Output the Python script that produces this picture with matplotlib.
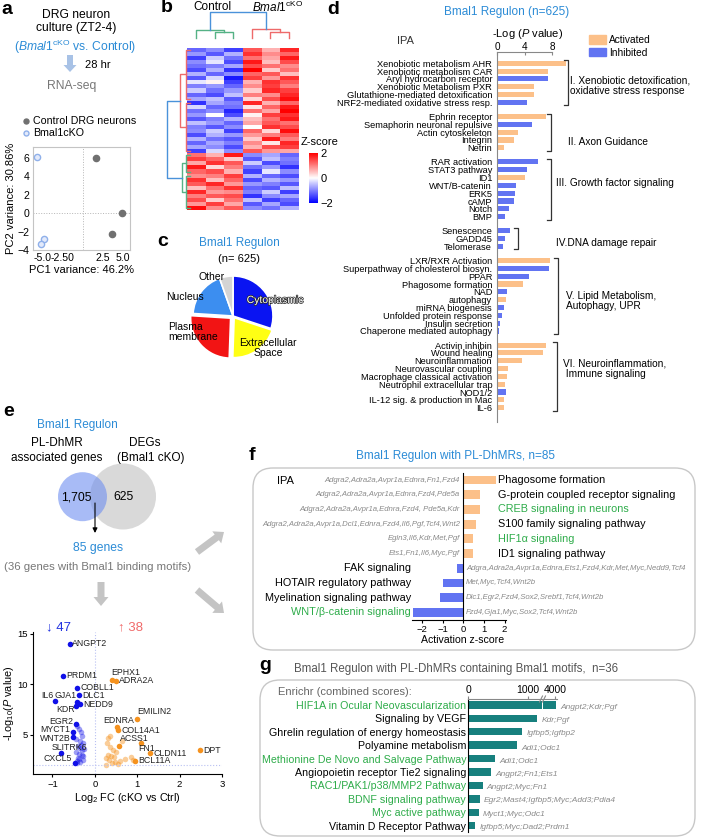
import numpy as np
import matplotlib
matplotlib.use("Agg")
import matplotlib.pyplot as plt
from matplotlib.patches import Circle, FancyBboxPatch, FancyArrow, Patch
from matplotlib.lines import Line2D
from matplotlib import patheffects as pe

plt.rcParams['font.family'] = ['Liberation Sans', 'DejaVu Sans']
plt.rcParams['mathtext.fontset'] = 'custom'
plt.rcParams['mathtext.rm'] = 'Liberation Sans'
plt.rcParams['mathtext.it'] = 'Liberation Sans:italic'
plt.rcParams['mathtext.bf'] = 'Liberation Sans:bold'
plt.rcParams['axes.linewidth'] = 0.8

W, H = 701, 838
TBLUE = '#2b8bd6'
ORANGE = '#fcc089'
BARBLUE = '#6274f2'
GREEN = '#2eac4a'
TEAL = '#17807e'

# ---------------- data ----------------
# a: PCA
pc1_ctrl = [1.6, 3.6, 4.9]
pc2_ctrl = [6.0, -2.3, 0.0]
pc1_cko = [-5.7, -4.9, -5.25]
pc2_cko = [6.1, -2.8, -3.4]

# b: heatmap z-scores (rows x Control1-3, cKO1-3)
hm_z = [
    [-1.2, -0.9, -1.5, 1.3, 0.6, 1.7],
    [-0.8, -1.3, -0.6, 1.6, 0.9, 1.2],
    [-1.5, -0.4, -1.1, 1.1, 0.7, 1.8],
    [-0.9, -0.2, -1.4, 1.8, 0.5, 1.4],
    [-1.1, -1.0, -0.7, 1.4, 1.1, 0.9],
    [-1.4, -0.6, -1.6, 2.0, 0.4, 1.1],
    [-0.6, -1.2, -0.9, 1.2, 1.3, 0.5],
    [-1.3, -0.3, -1.8, 1.5, 0.8, 1.6],
    [-0.2, 0.1, -1.5, 0.6, 1.6, 1.3],
    [-1.0, -0.8, -1.2, 0.9, 1.5, 1.0],
    [-0.4, -1.1, -0.8, 0.4, 1.7, 1.5],
    [-1.2, -1.4, -0.5, 1.0, 0.9, 1.7],
    [-0.7, -0.5, -1.3, 0.3, 1.4, 1.9],
    [-1.6, -0.7, -1.0, 1.7, 0.6, 1.2],
    [-0.3, -1.2, -1.1, 0.2, 1.2, 1.8],
    [-1.1, -0.9, -1.7, 1.1, 0.7, 2.0],
    [-0.8, 0.0, -1.4, 0.1, 1.5, 1.6],
    [-1.3, -1.0, -0.6, 0.5, 1.1, 1.8],
    [-0.5, -0.8, -1.2, 0.7, 1.3, 1.1],
    [-1.0, -1.3, -0.9, 0.0, 1.6, 1.4],
    [-0.9, -0.4, -1.5, 1.2, 0.3, 1.9],
    [-1.4, -0.6, -0.8, 0.8, 1.0, 1.3],
    [-0.6, -1.1, -1.3, 0.4, 1.8, 1.0],
    [-1.2, -0.7, -1.0, 0.9, 0.2, 1.7],
    [-0.7, -0.9, -1.4, 0.6, 1.4, 1.5],
    [-1.5, -0.3, -0.9, 1.3, 0.8, 0.7],
    [1.1, 0.6, 1.8, -0.9, -0.7, -1.2],
    [1.5, 1.2, 0.4, -1.3, -0.5, -1.0],
    [0.7, 1.6, 1.3, -0.4, -1.4, -1.1],
    [1.8, 0.3, 1.0, -1.1, -0.8, -1.6],
    [1.2, 1.4, 0.6, -1.5, -0.2, -0.9],
    [0.9, 1.0, 1.5, -0.6, -1.2, -1.4],
    [1.6, 0.5, 1.2, -1.4, -0.6, -0.8],
    [1.3, 1.7, 0.8, -0.8, -1.0, -1.3],
    [0.5, 1.1, 1.6, -1.2, -1.3, -0.5],
    [1.7, 0.8, 0.9, -1.0, -0.4, -1.5],
    [1.0, 1.3, 1.4, -1.6, -0.9, -0.7],
    [1.4, 0.4, 1.1, -0.5, -1.5, -1.2],
    [0.8, 1.5, 0.7, -1.3, -0.7, -1.4],
    [1.9, 0.9, 1.3, -0.9, -1.1, -0.6],
]
# row clusters (first row, last row) and linkage heights
row_subclusters = [(0, 12), (13, 25), (26, 30), (31, 39)]
row_sub_h = 0.17
row_cluster_h = [0.43, 0.36]
col_sub_h = [0.24, 0.24]
col_cluster_h = [0.30, 0.34]

# c: subcellular location
loc_names = ['Cytoplasmic', 'Extracellular Space', 'Plasma membrane', 'Nucleus', 'Other']
loc_counts = [188, 128, 159, 116, 34]
loc_colors = ['#0a14f2', '#ffff14', '#f21414', '#3c8ef0', '#d4d4d4']

# d: IPA pathways
ipa_groups = [
    ["Xenobiotic metabolism AHR", "Xenobiotic metabolism CAR", "Aryl hydrocarbon receptor",
     "Xenobiotic Metabolism PXR", "Glutathione-mediated detoxification",
     "NRF2-mediated oxidative stress resp."],
    ["Ephrin receptor", "Semaphorin neuronal repulsive", "Actin cytoskeleton", "Integrin", "Netrin"],
    ["RAR activation", "STAT3 pathway", "ID1", "WNT/B-catenin", "ERK5", "cAMP", "Notch", "BMP"],
    ["Senescence", "GADD45", "Telomerase"],
    ["LXR/RXR Activation", "Superpathway of cholesterol biosyn.", "PPAR", "Phagosome formation",
     "NAD", "autophagy", "miRNA biogenesis", "Unfolded protein response", "Insulin secretion",
     "Chaperone mediated autophagy"],
    ["Activin inhibin", "Wound healing", "Neuroinflammation", "Neurovascular coupling",
     "Macrophage classical activation", "Neutrophil extracellular trap", "NOD1/2",
     "IL-12 sig. & production in Mac", "IL-6"],
]
ipa_logp = [
    [10.0, 7.45, 7.45, 5.4, 5.35, 4.3],
    [7.1, 5.0, 3.1, 2.4, 1.0],
    [5.9, 4.3, 4.1, 2.8, 2.6, 2.5, 1.8, 1.1],
    [1.9, 1.2, 0.85],
    [7.7, 7.5, 4.6, 3.7, 1.5, 1.3, 1.0, 0.7, 0.4, 0.35],
    [7.1, 6.6, 3.6, 1.6, 1.5, 1.2, 1.3, 1.0, 0.95],
]
ipa_dir = ["AAIAAI", "AIAAA", "IIAIIIII", "III", "AIIAIAIIII", "AAAAAAIAA"]
ipa_group_titles = ["I. Xenobiotic detoxification,\noxidative stress response", "II. Axon Guidance",
                    "III. Growth factor signaling", "IV.DNA damage repair",
                    "V. Lipid Metabolism,\nAutophagy, UPR", "VI. Neuroinflammation,\n Immune signaling"]

# e: volcano
vol_down_lab = ['ANGPT2', 'PRDM1', 'COBLL1', 'DLC1', 'IL6', 'GJA1', 'NEDD9', 'KDR',
                'EGR2', 'MYCT1', 'WNT2B', 'SLITRK6', 'CXCL5']
vol_down_fc = [-0.59, -0.75, -0.42, -0.37, -0.94, -0.43, -0.35, -0.45, -0.45, -0.51, -0.51, -0.80, -0.47]
vol_down_p = [14.0, 10.8, 9.6, 8.9, 8.3, 8.25, 8.0, 7.85, 6.0, 5.2, 4.8, 3.2, 2.15]
vol_up_lab = ['EPHX1', 'ADRA2A', 'EMILIN2', 'EDNRA', 'COL14A1', 'ACSS1', 'FN1', 'CLDN11', 'DPT', 'BCL11A']
vol_up_fc = [0.41, 0.51, 1.0, 0.52, 0.55, 0.56, 1.10, 1.29, 2.49, 0.95]
vol_up_p = [10.4, 10.3, 6.5, 5.7, 5.4, 3.9, 4.2, 3.2, 3.45, 2.4]
vol_down_fc_other = [-0.42, -0.38, -0.33, -0.30, -0.45, -0.36, -0.28, -0.40, -0.34, -0.31, -0.44,
                     -0.37, -0.29, -0.39, -0.27, -0.35, -0.41, -0.32, -0.30, -0.38, -0.26, -0.43]
vol_down_p_other = [5.8, 5.5, 5.2, 4.9, 4.6, 4.4, 4.2, 3.9, 3.7, 3.5, 3.3,
                    3.1, 2.9, 2.7, 2.5, 2.3, 2.2, 4.0, 3.0, 2.6, 3.6, 2.4]
vol_up_fc_other = [0.30, 0.35, 0.28, 0.42, 0.50, 0.38, 0.27, 0.33, 0.45, 0.60, 0.70, 0.31,
                   0.40, 0.48, 0.55, 0.26, 0.36, 0.85, 0.90, 0.65]
vol_up_p_other = [4.7, 4.9, 4.2, 3.5, 3.3, 2.9, 2.7, 2.5, 2.8, 2.4, 2.6, 3.0,
                  2.2, 2.3, 2.1, 2.0, 3.8, 2.8, 2.5, 4.4]
n_down, n_up = 47, 38

# f: IPA activation z-scores
f_names = ["Phagosome formation", "G-protein coupled receptor signaling", "CREB signaling in neurons",
           "S100 family signaling pathway", "HIF1\u03b1 signaling", "ID1 signaling pathway",
           "FAK signaling", "HOTAIR regulatory pathway", "Myelination signaling pathway",
           "WNT/\u03b2-catenin signaling"]
f_z = [1.6, 0.83, 0.83, 0.64, 0.45, 0.45, -0.31, -1.0, -1.14, -2.43]
f_genes = ["Adgra2,Adra2a,Avpr1a,Ednra,Fn1,Fzd4", "Adgra2,Adra2a,Avpr1a,Ednra,Fzd4,Pde5a",
           "Adgra2,Adra2a,Avpr1a,Ednra,Fzd4, Pde5a,Kdr",
           "Adgra2,Adra2a,Avpr1a,Dcl1,Ednra,Fzd4,Il6,Pgf,Tcf4,Wnt2", "Egln3,Il6,Kdr,Met,Pgf",
           "Ets1,Fn1,Il6,Myc,Pgf", "Adgra,Adra2a,Avpr1a,Ednra,Ets1,Fzd4,Kdr,Met,Myc,Nedd9,Tcf4",
           "Met,Myc,Tcf4,Wnt2b", "Dlc1,Egr2,Fzd4,Sox2,Srebf1,Tcf4,Wnt2b", "Fzd4,Gja1,Myc,Sox2,Tcf4,Wnt2b"]
f_green = [False, False, True, False, True, False, False, False, False, True]

# g: Enrichr combined scores
g_names = ["HIF1A in Ocular Neovascularization", "Signaling by VEGF",
           "Ghrelin regulation of energy homeostasis", "Polyamine metabolism",
           "Methionine De Novo and Salvage Pathway", "Angiopoietin receptor Tie2 signaling",
           "RAC1/PAK1/p38/MMP2 Pathway", "BDNF signaling pathway", "Myc active pathway",
           "Vitamin D Receptor Pathway"]
g_scores = [4010, 1160, 910, 820, 450, 380, 240, 195, 175, 120]
g_genes = ["Angpt2;Kdr;Pgf", "Kdr;Pgf", "Igfbp5;Igfbp2", "Adi1;Odc1", "Adi1;Odc1", "Angpt2;Fn1;Ets1",
           "Angpt2;Myc;Fn1", "Egr2;Mast4;Igfbp5;Myc;Add3;Pdia4", "Myct1;Myc;Odc1", "Igfbp5;Myc;Dad2;Prdm1"]
g_green = [True, False, False, False, True, False, True, True, True, False]

# ---------------- figure ----------------
fig = plt.figure(figsize=(W / 100, H / 100), dpi=100)


def ax_px(x0, y0, x1, y1, **kw):
    return fig.add_axes([x0 / W, 1 - y1 / H, (x1 - x0) / W, (y1 - y0) / H], **kw)


ov = ax_px(0, 0, W, H, zorder=10)
ov.set_xlim(0, W)
ov.set_ylim(H, 0)
ov.axis('off')


def txt(x, y, s, size=8, ha='center', va='center', **kw):
    return ov.text(x, y, s, fontsize=size, ha=ha, va=va, **kw)


def seg(xs, ys, color='k', lw=1.0):
    ov.add_line(Line2D(xs, ys, color=color, lw=lw))


for lab, (lx, ly) in zip('abcdefg', [(1, 10), (161, 8), (157, 241), (327, 9), (3, 411), (249, 455), (259, 665)]):
    txt(lx, ly, lab, 14, ha='left', weight='bold')

# ---- a ----
txt(76, 15, 'DRG neuron', 8.7)
txt(76, 28, 'culture (ZT2-4)', 8.7)
txt(75, 47, r'($\it{Bmal1}^{\rm{cKO}}$ vs. Control)', 8.7, color=TBLUE)
ov.add_patch(FancyArrow(70, 55, 0, 17, width=6, head_width=13, head_length=7,
                        length_includes_head=True, color='#a8c2e6', lw=0))
txt(85, 65, '28 hr', 8, ha='left')
txt(72, 86, 'RNA-seq', 8.7, color='#777777')

axa = ax_px(33, 147, 130, 250)
h1 = axa.scatter(pc1_ctrl, pc2_ctrl, s=20, color='#707070', zorder=3)
h2 = axa.scatter(pc1_cko, pc2_cko, s=20, facecolor='#e3eafb', edgecolor='#8fb0ea', lw=1, zorder=3)
axa.axvline(0, color='#b5b5b5', ls=':', lw=0.7)
axa.axhline(0, color='#b5b5b5', ls=':', lw=0.7)
axa.set_xlim(-6.25, 5.9)
axa.set_ylim(-4, 7.2)
axa.set_xticks([-5, -2.5, 2.5, 5])
axa.set_xticklabels(['-5.0', '-2.50', '2.5', '5.0'])
axa.set_yticks([-4, -2, 0, 2, 4, 6])
axa.tick_params(length=0, labelsize=7.6, pad=2.5)
for s in axa.spines.values():
    s.set_color('#c4c4c4')
axa.set_xlabel('PC1 variance: 46.2%', fontsize=8, labelpad=1)
axa.set_ylabel('PC2 variance: 30.86%', fontsize=8, labelpad=1)
fig.legend([h1, h2], ['Control DRG neurons', 'Bmal1cKO'], loc='upper left',
           bbox_to_anchor=(21 / W, 1 - 116 / H), fontsize=7.7, frameon=False, handletextpad=0.1,
           labelspacing=0.15, borderpad=0, borderaxespad=0, handlelength=1.0, markerscale=0.8)

# ---- b ----
hm_x0, hm_x1, hm_y0, hm_y1 = 187, 298, 48, 210
n_rows = len(hm_z)
axb = ax_px(hm_x0, hm_y0, hm_x1, hm_y1)
im = axb.imshow(np.array(hm_z), aspect='auto', cmap='bwr', vmin=-2, vmax=2, interpolation='nearest')
axb.axis('off')
cax = ax_px(309, 153, 318, 203)
cb = fig.colorbar(im, cax=cax, ticks=[-2, 0, 2])
cb.outline.set_visible(False)
cax.tick_params(length=0, labelsize=8, pad=2)
txt(320, 142, 'Z-score', 8)
txt(212, 7, 'Control', 8.5)
txt(278, 7, r'$\it{Bmal1}^{\rm{cKO}}$', 8.5)

colw = (hm_x1 - hm_x0) / 6
col_c = [hm_x0 + (i + 0.5) * colw for i in range(6)]
rowh = (hm_y1 - hm_y0) / n_rows


def cy(h):
    return 38 - h * 26.3


def rx(h):
    return 190 - h * 23.3


def ulink_col(xa, ya, xb, yb, top, color):
    seg([xa, xa, xb, xb], [ya, top, top, yb], color, 1.0)


def ulink_row(ya, xa, yb, xb, left, color):
    seg([xa, left, left, xb], [ya, ya, yb, yb], color, 1.0)


cols_green, cols_red, cols_root = '#55b285', '#ee6a6a', '#4a92da'
mids = []
for k, (a, b, c) in enumerate([(0, 1, 2), (3, 4, 5)]):
    color = cols_green if k == 0 else cols_red
    ulink_col(col_c[b], cy(0), col_c[c], cy(0), cy(col_sub_h[k]), color)
    m = (col_c[b] + col_c[c]) / 2
    ulink_col(col_c[a], cy(0), m, cy(col_sub_h[k]), cy(col_cluster_h[k]), color)
    mids.append(((col_c[a] + m) / 2, cy(col_cluster_h[k])))
ulink_col(mids[0][0], mids[0][1], mids[1][0], mids[1][1], cy(1.0), cols_root)

rmids = []
for k in range(2):
    color = cols_red if k == 0 else cols_green
    subm = []
    for (r0, r1) in row_subclusters[2 * k:2 * k + 2]:
        ya, yb = hm_y0 + (r0 + 0.5) * rowh, hm_y0 + (r1 + 0.5) * rowh
        ulink_row(ya, rx(0), yb, rx(0), rx(row_sub_h), color)
        subm.append((ya + yb) / 2)
    ulink_row(subm[0], rx(row_sub_h), subm[1], rx(row_sub_h), rx(row_cluster_h[k]), color)
    rmids.append(((subm[0] + subm[1]) / 2, rx(row_cluster_h[k])))
ulink_row(rmids[0][0], rmids[0][1], rmids[1][0], rmids[1][1], rx(1.0), cols_root)

# ---- c ----
txt(239, 243, 'Bmal1 Regulon', 8.5, color=TBLUE)
txt(239, 259, '(n= 625)', 8)
axc = ax_px(183, 266, 283, 366)
axc.pie(loc_counts, colors=loc_colors, startangle=90, counterclock=False,
        explode=[0, 0.05, 0.08, 0, 0], wedgeprops=dict(edgecolor='white', lw=1.2))
axc.set_xlim(-1.25, 1.25)
axc.set_ylim(-1.25, 1.25)
axc.set_aspect('equal')
txt(275, 300, loc_names[0], 7.5, color='white',
    path_effects=[pe.withStroke(linewidth=1.0, foreground='#222222')])
txt(268, 348, 'Extracellular\nSpace', 7.5, linespacing=1.0)
txt(168, 332, 'Plasma\nmembrane', 7.5, ha='left', linespacing=1.0)
txt(185, 297, loc_names[3], 7.5)
txt(212, 277, loc_names[4], 7.5)

# ---- d ----
txt(507, 12, 'Bmal1 Regulon (n=625)', 8.5, color=TBLUE)
txt(397, 41, 'IPA', 8, ha='left', color='#333333')
txt(528, 34, r'-Log ($\it{P}$ value)', 8)
axd = ax_px(497, 52, 567.4, 421.7)
ypos, names, vals, cols, gspan = [], [], [], [], []
pos = 0.0
for grp, lp, dr in zip(ipa_groups, ipa_logp, ipa_dir):
    start = pos
    for n, v, d in zip(grp, lp, dr):
        ypos.append(pos)
        names.append(n)
        vals.append(v)
        cols.append(ORANGE if d == 'A' else BARBLUE)
        pos += 1
    gspan.append((start, pos - 1))
    pos += 0.8
axd.barh(ypos, vals, height=0.65, color=cols, clip_on=False)
axd.set_xlim(0, 10.2)
axd.set_ylim(45.79, -1.44)
axd.xaxis.tick_top()
axd.set_xticks([0, 4, 8])
axd.spines['top'].set_bounds(0, 8)
for s in ['right', 'bottom']:
    axd.spines[s].set_visible(False)
for s in ['top', 'left']:
    axd.spines[s].set_color('#888888')
axd.tick_params(axis='x', labelsize=7.2, length=2, direction='in', pad=0.3, color='#888888')
axd.set_yticks(ypos)
axd.set_yticklabels(names, fontsize=6.7)
axd.tick_params(axis='y', length=0, pad=3.5)
axd.patch.set_visible(False)
fig.legend(handles=[Patch(color=ORANGE, label='Activated'), Patch(color=BARBLUE, label='Inhibited')],
           loc='upper left', bbox_to_anchor=(589 / W, 1 - 35 / H), fontsize=7.3, frameon=False,
           handlelength=1.7, handleheight=0.9, labelspacing=0.25, handletextpad=0.3,
           borderpad=0, borderaxespad=0)


def dy_px(y):
    return 52 + (y + 1.44) * 7.83


br_x = [568.3, 550.7, 550.7, 517.7, 558.3, 556.7]
br_txt = [(570, 85.5), (567.5, 141.7), (555.7, 182.7), (555.7, 243.3), (566, 301), (562.7, 369)]
for (a, b), bx, title, (tx, ty) in zip(gspan, br_x, ipa_group_titles, br_txt):
    y0, y1 = dy_px(a) - 3, dy_px(b) + 3
    seg([bx - 4, bx, bx, bx - 4], [y0, y0, y1, y1], '#333333', 0.9)
    txt(tx, ty, title, 7.3, ha='left', linespacing=1.1)

# ---- e ----
txt(77, 425, 'Bmal1 Regulon', 8.5, color=TBLUE)
txt(57, 443, 'PL-DhMR', 8.5)
txt(57, 458, 'associated genes', 8.5)
txt(145, 443, 'DEGs', 8.5)
txt(151, 458, '(Bmal1 cKO)', 8.5)
ov.add_patch(Circle((123, 496.5), 33, color='#d9d9d9', lw=0))
ov.add_patch(Circle((82.5, 496.7), 24.5, color='#6f8ff0', alpha=0.6, lw=0))
txt(76, 497, '1,705', 8.7)
txt(123, 497, '625', 8.7)
ov.annotate('', xy=(95, 533), xytext=(95, 503),
            arrowprops=dict(arrowstyle='-|>', color='k', lw=0.8, mutation_scale=7, shrinkA=0, shrinkB=0))
txt(98.5, 548, '85 genes', 8.7, color=TBLUE)
txt(98, 567, '(36 genes with Bmal1 binding motifs)', 8.2, color='#777777')
for (x, y, dx, dy) in [(101, 582, 0, 24), (197, 552, 27, -20), (197, 590, 27, 23)]:
    ov.add_patch(FancyArrow(x, y, dx, dy, width=7, head_width=15, head_length=9,
                            length_includes_head=True, color='#c4c4c4', lw=0))
txt(58, 627, '\u2193 %d' % n_down, 9.5, color='#2233e0')
txt(130, 627, '\u2191 %d' % n_up, 9.5, color='#f06a6a')

axe = ax_px(33, 632, 222, 774)
VBLUE, VORANGE = '#1010e8', '#f5921e'
axe.scatter(vol_down_fc_other, vol_down_p_other, s=16, color=VBLUE, alpha=0.4, lw=0)
axe.scatter(vol_up_fc_other, vol_up_p_other, s=16, color=VORANGE, alpha=0.45, lw=0)
axe.scatter(vol_down_fc, vol_down_p, s=16, color=VBLUE, lw=0, zorder=3)
axe.scatter(vol_up_fc, vol_up_p, s=16, color=VORANGE, lw=0, zorder=3)
lab_off = {'ANGPT2': (2, 0, 'left'), 'PRDM1': (3, 0, 'left'), 'COBLL1': (3, -0.5, 'left'),
           'DLC1': (3, 0.5, 'left'), 'IL6': (-2, -6, 'right'), 'GJA1': (0, -6, 'right'),
           'NEDD9': (3, 0.5, 'left'), 'KDR': (-1, 4, 'right'), 'EGR2': (-3, -2.5, 'right'),
           'MYCT1': (-3, -3, 'right'), 'WNT2B': (-3, 2, 'right'), 'SLITRK6': (-9, -5, 'left'),
           'CXCL5': (-3, -5, 'right'), 'EPHX1': (-1, -7, 'left'), 'ADRA2A': (3, 0, 'left'),
           'EMILIN2': (0, -8, 'left'), 'EDNRA': (2, -7, 'center'), 'COL14A1': (3, 0, 'left'),
           'ACSS1': (1, -7, 'left'), 'FN1': (-3, 6, 'left'), 'CLDN11': (4, 0.5, 'left'),
           'DPT': (3, 0, 'left'), 'BCL11A': (3, 0, 'left')}
for labs, xs, ys in [(vol_down_lab, vol_down_fc, vol_down_p), (vol_up_lab, vol_up_fc, vol_up_p)]:
    for lab, x, y in zip(labs, xs, ys):
        dx, dy, ha = lab_off[lab]
        axe.annotate(lab, (x, y), xytext=(dx * 0.72, -dy * 0.72), textcoords='offset points',
                     fontsize=6.3, ha=ha, va='center', color='#222222')
axe.axvline(0, color='#b8c0f2', ls=':', lw=0.8)
axe.axhline(2, color='#b8c0f2', ls=':', lw=0.8)
axe.set_xlim(-1.46, 3.0)
axe.set_ylim(1.09, 15.15)
axe.set_xticks([-1, 0, 1, 2, 3])
axe.set_yticks([5, 10, 15])
axe.tick_params(labelsize=6.8, length=2.5, pad=1.5)
for s in ['top', 'right']:
    axe.spines[s].set_visible(False)
axe.set_xlabel(r'Log$_2$ FC (cKO vs Ctrl)', fontsize=7.8, labelpad=2)
axe.set_ylabel(r'-Log$_{10}$($\it{P}$ value)', fontsize=7.8, labelpad=1)
axe.patch.set_visible(False)

# ---- f ----
txt(455, 456, 'Bmal1 Regulon with PL-DhMRs, n=85', 8.5, color=TBLUE)
ov.add_patch(FancyBboxPatch((253, 468), 442, 182, boxstyle='round,pad=0,rounding_size=20',
                            fc='none', ec='#c8c8c8', lw=1))
txt(277, 481, 'IPA', 8, ha='left')
axf = ax_px(411.6, 473, 505.6, 620)
rows = np.arange(len(f_z))
axf.barh(rows, f_z, height=0.6, color=[ORANGE if z > 0 else BARBLUE for z in f_z])
axf.set_xlim(-2.5, 2.05)
axf.set_ylim(9.52, -0.48)
axf.spines['left'].set_position(('data', 0))
for s in ['top', 'right']:
    axf.spines[s].set_visible(False)
axf.set_yticks([])
axf.set_xticks([-2, -1, 0, 1, 2])
axf.tick_params(axis='x', labelsize=6.8, length=2, pad=1.5)
axf.patch.set_visible(False)
for i, (n, z, gl, gr) in enumerate(zip(f_names, f_z, f_genes, f_green)):
    ncol = GREEN if gr else 'black'
    if z > 0:
        axf.text(1.69, i, n, fontsize=7.8, ha='left', va='center', color=ncol)
        axf.text(-0.16, i, gl, fontsize=5.6, ha='right', va='center', color='#8a8a8a', style='italic')
    else:
        axf.text(-2.53, i, n, fontsize=7.8, ha='right', va='center', color=ncol)
        axf.text(0.13, i, gl, fontsize=5.6, ha='left', va='center', color='#8a8a8a', style='italic')
txt(463, 640, 'Activation z-score', 7.6)

# ---- g ----
txt(456, 669, 'Bmal1 Regulon with PL-DhMRs containing Bmal1 motifs,  n=36', 8.3, color='#555555')
ov.add_patch(FancyBboxPatch((260, 680), 435, 156, boxstyle='round,pad=0,rounding_size=20',
                            fc='none', ec='#c8c8c8', lw=1))
txt(277.5, 692, 'Enrichr (combined scores):', 8, ha='left', color='#666666')
axg1 = ax_px(468.3, 699.3, 541.7, 832)
axg2 = ax_px(543.3, 699.3, 557, 832)
rows = np.arange(len(g_scores))
for axg in (axg1, axg2):
    axg.barh(rows, g_scores, height=0.55, color=TEAL)
    axg.set_ylim(9.47, -0.42)
    axg.xaxis.tick_top()
    axg.tick_params(axis='x', labelsize=7.5, length=2, pad=1, color='#888888')
    for s in ['right', 'bottom']:
        axg.spines[s].set_visible(False)
    axg.spines['top'].set_color('#888888')
    axg.patch.set_visible(False)
axg1.set_xlim(0, 1235)
axg2.set_xlim(3800, 4030)
axg1.set_xticks([0, 1000])
axg2.set_xticks([4000])
axg2.set_yticks([])
axg2.spines['left'].set_visible(False)
axg1.set_yticks(rows)
axg1.set_yticklabels(g_names, fontsize=7.7)
axg1.tick_params(axis='y', length=0, pad=1.5)
for lbl, gr in zip(axg1.get_yticklabels(), g_green):
    lbl.set_color(GREEN if gr else 'black')
for i, (v, gl) in enumerate(zip(g_scores, g_genes)):
    axt = axg2 if v > 1235 else axg1
    axt.annotate(gl, (v, i), xytext=(3, -1.5), textcoords='offset points', fontsize=6,
                 ha='left', va='center', color='#8a8a8a', style='italic', annotation_clip=False)
seg([539.5, 542.5], [702, 696], '#888888', 0.8)
seg([542.5, 545.5], [702, 696], '#888888', 0.8)

fig.savefig('out.png', dpi=100)
